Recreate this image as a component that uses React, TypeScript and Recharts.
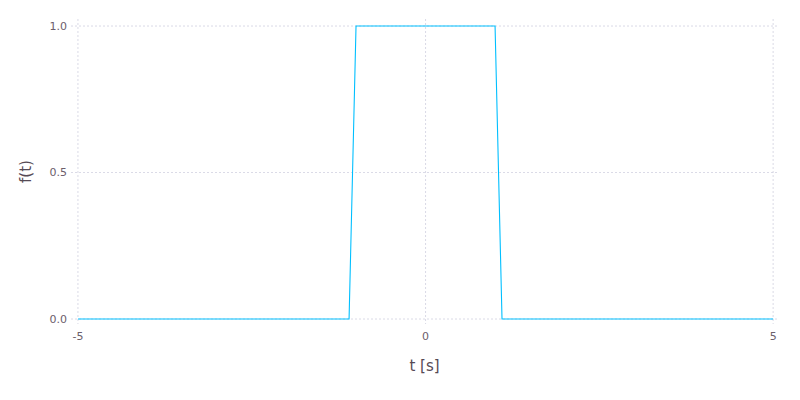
import { LineChart, Line, XAxis, YAxis, CartesianGrid, Label } from 'recharts'

// rectangular pulse, sampled where the edges are
const tValues = [-5, -1.1, -1.0, 1.0, 1.1, 5]
const fValues = [0, 0, 1, 1, 0, 0]
const xTicks = [-5, 0, 5]
const yTicks = [0, 0.5, 1]

const data = tValues.map((t, i) => ({ t, f: fValues[i] }))

const tickStyle = { fill: '#6c606b', fontSize: 11, fontFamily: 'DejaVu Sans' }

function YLabel(props: any) {
  const vb = props.viewBox || {}
  const cx = 26
  const cy = vb.y + vb.height / 2
  return (
    <text
      x={cx}
      y={cy}
      transform={`rotate(-90 ${cx} ${cy})`}
      textAnchor="middle"
      dominantBaseline="central"
      fill="#564a55"
      fontSize={15}
      fontFamily="DejaVu Sans"
    >
      f(t)
    </text>
  )
}

export default function App() {
  return (
    <div style={{ position: 'absolute', left: 0, top: 0, width: 800, height: 400, background: '#fff' }}>
      <LineChart width={800} height={400} data={data} margin={{ top: 19, right: 22, left: 0, bottom: 0 }}>
        <CartesianGrid stroke="#d0d0e0" strokeWidth={0.8} strokeDasharray="2 2" horizontalValues={yTicks} verticalValues={xTicks} />
        <XAxis
          dataKey="t"
          type="number"
          domain={[-5.1, 5.07]}
          ticks={xTicks}
          tickFormatter={(v) => String(v)}
          axisLine={false}
          tickLine={false}
          tickSize={0}
          tickMargin={8}
          height={76}
          tick={tickStyle}
        >
          <Label value="t [s]" position="insideBottom" offset={29} fill="#564a55" fontSize={15} fontFamily="DejaVu Sans" />
        </XAxis>
        <YAxis
          type="number"
          domain={[-0.017, 1.024]}
          ticks={yTicks}
          tickFormatter={(v) => v.toFixed(1)}
          axisLine={false}
          tickLine={false}
          tickSize={0}
          tickMargin={4}
          width={71}
          tick={tickStyle}
        >
          <Label content={<YLabel />} />
        </YAxis>
        <Line type="linear" dataKey="f" stroke="#00bfff" strokeWidth={1.1} dot={false} isAnimationActive={false} />
      </LineChart>
    </div>
  )
}
